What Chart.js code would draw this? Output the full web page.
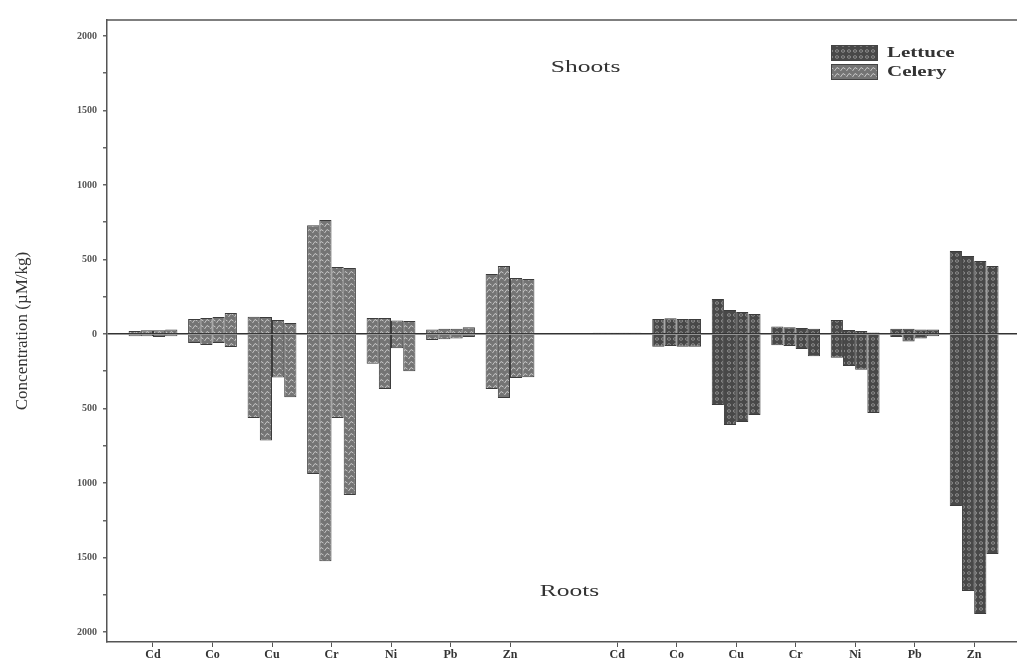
<!DOCTYPE html>
<html>
<head>
<meta charset="utf-8">
<script src="https://cdn.jsdelivr.net/npm/chart.js@4"></script>
<style>
  body { margin: 0; background: #fff; }
  #wrap { width: 1017px; height: 666px; position: relative; }
</style>
</head>
<body>
<div id="wrap"><canvas id="chart"></canvas></div>
<script>
// categories: celery metals (left), gap, lettuce metals (right)
const categories = ['Cd', 'Co', 'Cu', 'Cr', 'Ni', 'Pb', 'Zn', 'Cd', 'Co', 'Cu', 'Cr', 'Ni', 'Pb', 'Zn'];
const xPos = [1, 2, 3, 4, 5, 6, 7, 8.8, 9.8, 10.8, 11.8, 12.8, 13.8, 14.8];
const crops = ['Celery', 'Celery', 'Celery', 'Celery', 'Celery', 'Celery', 'Celery',
               'Lettuce', 'Lettuce', 'Lettuce', 'Lettuce', 'Lettuce', 'Lettuce', 'Lettuce'];

// shoots (positive) and roots (negative), four bars per metal
const shoots1 = [20, 100, 115, 730, 107, 30, 403, 8, 100, 235, 50, 94, 35, 557];
const shoots2 = [25, 107, 114, 765, 107, 35, 456, 8, 105, 161, 45, 27, 35, 523];
const shoots3 = [25, 114, 94, 450, 90, 35, 376, 8, 100, 148, 40, 20, 30, 490];
const shoots4 = [30, 140, 74, 443, 87, 45, 369, 8, 100, 134, 35, 10, 30, 456];
const roots1 = [-15, -60, -564, -940, -200, -40, -369, -5, -85, -476, -75, -160, -20, -1154];
const roots2 = [-15, -74, -715, -1525, -370, -35, -430, -5, -80, -611, -80, -215, -50, -1725];
const roots3 = [-20, -60, -292, -564, -95, -30, -295, -5, -85, -590, -100, -240, -30, -1879];
const roots4 = [-15, -87, -425, -1080, -250, -20, -290, -5, -85, -544, -150, -530, -15, -1476];

const yTicks = [-2000, -1750, -1500, -1250, -1000, -750, -500, -250, 0, 250, 500, 750, 1000, 1250, 1500, 1750, 2000];
const legendItems = ['Lettuce', 'Celery'];

function makePattern(bg, fg, kind) {
    const c = document.createElement('canvas');
    c.width = 6; c.height = 6;
    const g = c.getContext('2d');
    g.fillStyle = bg;
    g.fillRect(0, 0, 6, 6);
    g.strokeStyle = fg;
    g.fillStyle = fg;
    g.lineWidth = 1;
    if (kind === 'hatch') {
        g.beginPath();
        g.moveTo(0.5, 5); g.lineTo(3, 1.5); g.lineTo(5.5, 3);
        g.stroke();
    } else {
        g.beginPath();
        g.ellipse(3, 3, 1.6, 1.3, 0, 0, Math.PI * 2);
        g.stroke();
    }
    return g.createPattern(c, 'repeat');
}
const patterns = {
    Celery: makePattern('#747474', '#c8c8c8', 'hatch'),
    Lettuce: makePattern('#484848', '#8c8c8c', 'dots')
};

function series(values) {
    return values.map((v, i) => ({ x: xPos[i], y: v }));
}
const barStyle = {
    backgroundColor: c => patterns[crops[c.dataIndex]] || '#777',
    borderColor: '#3c3c3c',
    borderWidth: 1,
    barPercentage: 1.0,
    categoryPercentage: 0.82
};
const shootSets = [shoots1, shoots2, shoots3, shoots4];
const rootSets = [roots1, roots2, roots3, roots4];
const datasets = [];
shootSets.forEach((s, t) => {
    datasets.push(Object.assign({ label: 'Shoots ' + (t + 1), data: series(s), stack: 'T' + t }, barStyle));
    datasets.push(Object.assign({ label: 'Roots ' + (t + 1), data: series(rootSets[t]), stack: 'T' + t }, barStyle));
});

const serif = "'Liberation Serif', 'DejaVu Serif', serif";

// the scanned lettering is much wider than a normal serif, so stretch it
function wideText(ctx, text, x, y, sx) {
    ctx.save();
    ctx.translate(x, y);
    ctx.scale(sx, 1);
    ctx.fillText(text, 0, 0);
    ctx.restore();
}

const extras = {
    id: 'extras',
    afterDraw(chart) {
        const { ctx, chartArea: a, scales: { x, y } } = chart;
        ctx.save();
        // top frame line
        ctx.strokeStyle = '#555';
        ctx.lineWidth = 1.5;
        ctx.beginPath();
        ctx.moveTo(a.left, a.top);
        ctx.lineTo(a.right, a.top);
        ctx.stroke();
        // Shoots / Roots labels
        ctx.fillStyle = '#333';
        ctx.font = '17px ' + serif;
        ctx.textAlign = 'center';
        ctx.textBaseline = 'middle';
        wideText(ctx, 'Shoots', x.getPixelForValue(8.27), y.getPixelForValue(1790), 1.5);
        wideText(ctx, 'Roots', x.getPixelForValue(8.0), y.getPixelForValue(-1725), 1.5);
        // legend
        const lx = a.right - 186, ly = a.top + 25;
        legendItems.forEach((name, i) => {
            const by = ly + i * 19;
            ctx.fillStyle = patterns[name];
            ctx.fillRect(lx, by, 47, 16);
            ctx.strokeStyle = '#444';
            ctx.lineWidth = 1;
            ctx.strokeRect(lx + 0.5, by + 0.5, 46, 15);
            ctx.fillStyle = '#333';
            ctx.font = 'bold 14px ' + serif;
            ctx.textAlign = 'left';
            wideText(ctx, name, lx + 56, by + 8, 1.5);
        });
        ctx.restore();
    }
};

new Chart(document.getElementById('chart'), {
    type: 'bar',
    data: { datasets },
    options: {
        responsive: true,
        maintainAspectRatio: false,
        animation: false,
        layout: { padding: { top: 20, right: 0, left: 0, bottom: 0 } },
        plugins: { legend: { display: false }, tooltip: { enabled: false } },
        scales: {
            x: {
                type: 'linear',
                min: 0.227,
                max: 15.52,
                offset: false,
                afterBuildTicks: s => { s.ticks = xPos.map(v => ({ value: v })); },
                afterFit: s => { s.height = 24; },
                ticks: {
                    callback: v => categories[xPos.indexOf(v)] || '',
                    font: { family: serif, size: 12, weight: 'bold' },
                    color: '#333',
                    padding: 1,
                    maxRotation: 0,
                    autoSkip: false
                },
                grid: { offset: false, drawOnChartArea: false, tickLength: 5, tickColor: '#555' },
                border: { color: '#555', width: 1.5 }
            },
            y: {
                stacked: true,
                min: -2067,
                max: 2107,
                afterBuildTicks: s => { s.ticks = yTicks.map(v => ({ value: v })); },
                afterFit: s => { s.width = 107; },
                ticks: {
                    callback: v => (v % 500 === 0 ? String(Math.abs(v)) : ''),
                    font: { family: serif, size: 10, weight: 'bold' },
                    color: '#555',
                    padding: 6,
                    autoSkip: false
                },
                grid: {
                    color: c => (c.tick && c.tick.value === 0 ? '#333' : 'rgba(0,0,0,0)'),
                    lineWidth: 1.5,
                    tickColor: '#666',
                    tickLength: 4
                },
                border: { color: '#555', width: 1.5 },
                title: {
                    display: true,
                    text: 'Concentration (µM/kg)',
                    font: { family: serif, size: 17 },
                    color: '#333',
                    padding: { top: 12, bottom: 10 }
                }
            }
        }
    },
    plugins: [extras]
});
</script>
</body>
</html>
